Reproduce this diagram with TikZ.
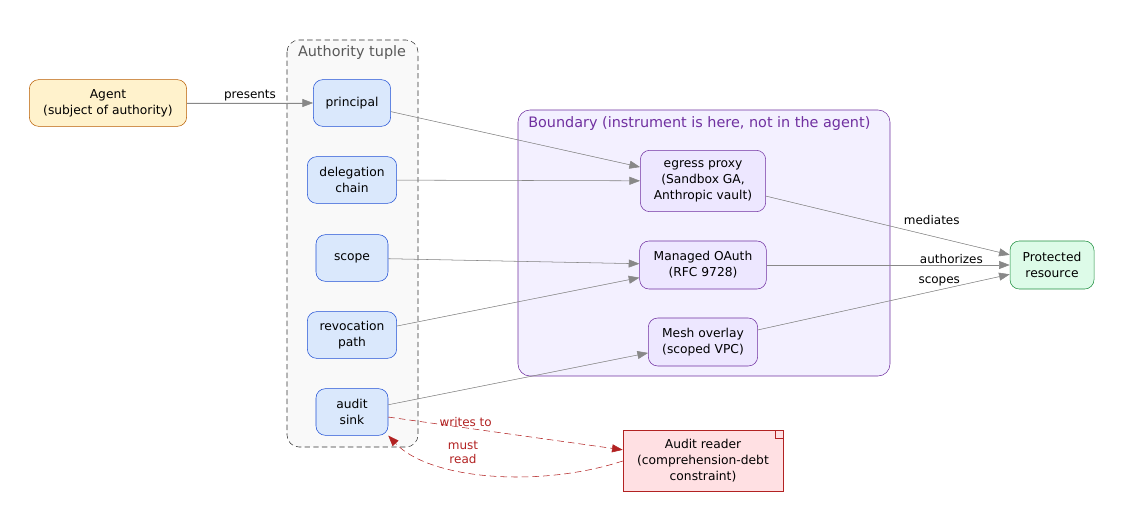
\documentclass[tikz,border=0pt]{standalone}
\usepackage{fontspec}
\setmainfont{DejaVu Sans}
\usetikzlibrary{arrows.meta,positioning}
\definecolor{tupfill}{HTML}{DAE8FC}
\definecolor{tupline}{HTML}{1F4FD6}
\definecolor{bndfill}{HTML}{F3F0FF}
\definecolor{bndline}{HTML}{7030A0}
\definecolor{insfill}{HTML}{EDE7FF}
\definecolor{agfill}{HTML}{FFF2CC}
\definecolor{agline}{HTML}{B85C00}
\definecolor{resfill}{HTML}{DDFBE8}
\definecolor{resline}{HTML}{1E8E3E}
\definecolor{rdfill}{HTML}{FFE0E3}
\definecolor{rdline}{HTML}{B22222}
\definecolor{edgegray}{HTML}{888888}
\tikzset{
  box/.style={draw, rounded corners=7pt, align=center, inner sep=1pt,
    font=\fontsize{9.2}{12}\selectfont},
  tuple/.style={box, fill=tupfill, draw=tupline, minimum height=35pt},
  instr/.style={box, fill=insfill, draw=bndline},
  flow/.style={draw=edgegray, -{Triangle[length=8pt,width=6pt]}, fill=edgegray},
  rflow/.style={draw=rdline, dashed, dash pattern=on 5pt off 3pt, -{Triangle[length=8pt,width=6pt]}},
  elabel/.style={font=\fontsize{9}{10.5}\selectfont},
}
\begin{document}
\begin{tikzpicture}[x=0.75pt,y=0.75pt,yscale=-1,xscale=1]
  \useasboundingbox (0,0) rectangle (1123,520);

  % clusters
  \draw[dashed, dash pattern=on 4pt off 2.5pt, rounded corners=9pt, fill=black!2.5, draw=black!80] (287,40) rectangle (418,447);
  \node[text=black!65, font=\fontsize{10.8}{12}\selectfont] (tuplbl) at (352,53) {Authority tuple};
  \draw[rounded corners=9pt, fill=bndfill, draw=bndline] (518,110) rectangle (890,376);
  \node[text=bndline, font=\fontsize{10.8}{12}\selectfont, anchor=west, inner sep=0pt] (bndlbl) at (528,124) {Boundary (instrument is here, not in the agent)};

  % nodes
  \node[box, fill=agfill, draw=agline, minimum width=118pt, minimum height=35pt] (agent) at (108,103) {Agent\\(subject of authority)};
  \node[tuple, minimum width=58pt] (principal) at (352,103) {principal};
  \node[tuple, minimum width=67pt] (deleg) at (352,180) {delegation\\chain};
  \node[tuple, minimum width=54pt] (scope) at (352,258) {scope};
  \node[tuple, minimum width=67pt] (revoc) at (352,335) {revocation\\path};
  \node[tuple, minimum width=54pt] (sink) at (352,412) {audit\\sink};
  \node[instr, minimum width=94pt, minimum height=46pt] (egress) at (703,181) {egress proxy\\(Sandbox GA,\\Anthropic vault)};
  \node[instr, minimum width=95pt, minimum height=36pt] (oauth) at (703,265) {Managed OAuth\\(RFC 9728)};
  \node[instr, minimum width=82pt, minimum height=36pt] (mesh) at (703,342) {Mesh overlay\\(scoped VPC)};
  \node[box, fill=resfill, draw=resline, minimum width=63pt, minimum height=36pt] (resource) at (1052,265) {Protected\\resource};
  \node[box, rounded corners=0pt, fill=rdfill, draw=rdline, minimum width=120pt, minimum height=46pt] (reader) at (703,461) {Audit reader\\(comprehension-debt\\constraint)};
  \draw[rdline] ([xshift=-6pt]reader.north east) -- ++(0,6pt) -- ++(6pt,0);

  % edges
  \draw[flow] (agent) -- node[above, elabel, inner sep=1pt] {presents} (principal);
  \draw[flow] (principal) -- (egress);
  \draw[flow] (deleg) -- (egress);
  \draw[flow] (scope) -- (oauth);
  \draw[flow] (revoc) -- (oauth);
  \draw[flow] (sink) -- (mesh);
  \draw[flow] (egress) -- node[above, pos=0.68, elabel, yshift=5pt] {mediates} (resource);
  \draw[flow] (oauth) -- node[above, pos=0.76, elabel, inner sep=1pt] {authorizes} (resource);
  \draw[flow] (mesh) -- node[above, pos=0.72, elabel, inner sep=1pt, yshift=2pt] {scopes} (resource);
  \draw[rflow] (sink) -- node[above, pos=0.33, elabel, text=rdline, inner sep=1pt] {writes to} (reader);
  \draw[rflow] (reader.west) .. controls (540,488) and (430,480) .. (sink.south east);
  \node[elabel, text=rdline, align=center] (mustread) at (463,452) {must\\read};
\end{tikzpicture}
\end{document}
